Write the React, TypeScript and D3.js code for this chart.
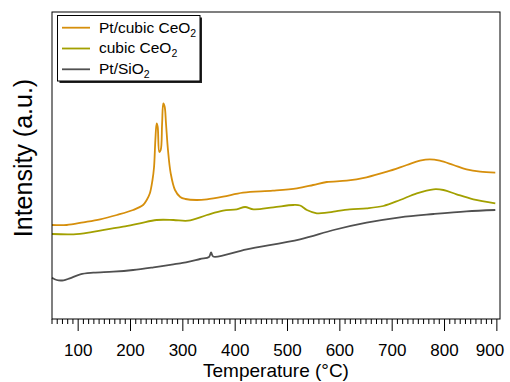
import React from "react";
import * as d3 from "d3";

// temperature axis (°C) and its labelled ticks
const tickLabels = [100, 200, 300, 400, 500, 600, 700, 800, 900];
const minorTicks = d3.range(50, 901, 10);

// Pt/cubic CeO2
const ptCeO2Temp = [50, 78, 110, 142, 174, 205, 224, 231, 237, 242, 245, 247.5, 250, 252, 255, 257.7, 260.4, 262.7, 265.3, 267.8, 271.6, 276.8, 285, 295, 305, 326, 346, 377, 415, 472, 518, 549, 575, 613, 651, 690, 728, 753, 772, 791, 817, 842, 868, 897];
const ptCeO2Int = [94, 94, 96.7, 99.7, 104, 109, 114, 119, 125.7, 139, 152, 179, 195.7, 192, 167, 169, 195.7, 215.7, 212.3, 195.7, 169, 145.7, 129, 122, 120, 119, 119.7, 122.3, 126.3, 128.3, 130.7, 134, 137, 138.3, 141.7, 147.3, 154, 158.3, 159.7, 158.3, 154, 149.7, 147.3, 146.3];

// cubic CeO2
const ceO2Temp = [50, 91, 123, 155, 186, 218, 250, 282, 310, 346, 377, 403, 419, 435, 473, 511, 524, 537, 556, 575, 588, 619, 651, 683, 715, 747, 779, 798, 823, 855, 897];
const ceO2Int = [85, 84.7, 86.7, 89.7, 92.3, 95.7, 99, 99, 98.3, 104, 108.3, 109.7, 112, 109.7, 111.7, 114, 113.5, 109, 105.7, 106.3, 107.3, 109.7, 110.7, 113, 119, 125.7, 129.7, 129, 124.7, 119.7, 115.7];

// Pt/SiO2
const ptSiO2Temp = [50, 59, 72, 84, 104, 129, 167, 205, 244, 282, 295, 333, 350, 354, 358, 422, 524, 588, 651, 715, 779, 842, 897];
const ptSiO2Int = [41.3, 39, 38.7, 40.7, 44.7, 46.3, 47.3, 49, 51.7, 54.7, 55.7, 60, 62, 66.5, 62.5, 69.7, 79.7, 89, 96.3, 101.7, 105, 107.7, 109];

const seriesNames = ["Pt/cubic CeO", "cubic CeO", "Pt/SiO"];
const seriesColors = ["#d68f0c", "#a2a000", "#505050"];

const W = 510;
const H = 382;
const margin = { left: 52, right: 10, top: 12, bottom: 63 };
const font = "Arial, 'Liberation Sans', sans-serif";

export default function App() {
  const x = d3.scaleLinear().domain([50, 906]).range([margin.left, W - margin.right]);
  const y = d3.scaleLinear().domain([0, 307]).range([H - margin.bottom, margin.top]);
  const axisY = H - margin.bottom;

  const line = d3
    .line<[number, number]>()
    .x((d) => x(d[0]))
    .y((d) => y(d[1]))
    .curve(d3.curveCatmullRom.alpha(0.5));

  const series = [
    d3.zip(ptCeO2Temp, ptCeO2Int),
    d3.zip(ceO2Temp, ceO2Int),
    d3.zip(ptSiO2Temp, ptSiO2Int),
  ] as [number, number][][];

  // legend box
  const lg = { x: 57.5, y: 15.5, w: 142.5, h: 65.5, row: 20.8 };

  return (
    <svg width={W} height={H} style={{ position: "absolute", left: 0, top: 0 }} fontFamily={font}>
      <rect width={W} height={H} fill="#fff" />

      {/* curves: draw grey first so coloured ones sit on top */}
      {series
        .map((s, i) => ({ s, i }))
        .reverse()
        .map(({ s, i }) => (
          <path key={i} d={line(s) || ""} fill="none" stroke={seriesColors[i]} strokeWidth={1.8} />
        ))}

      {/* frame */}
      <rect
        x={margin.left}
        y={margin.top}
        width={W - margin.right - margin.left}
        height={axisY - margin.top}
        fill="none"
        stroke="#000"
        strokeWidth={1}
      />

      {/* x ticks */}
      {minorTicks.map((t) => {
        const major = t % 100 === 0;
        return (
          <line key={t} x1={x(t)} x2={x(t)} y1={axisY} y2={axisY + (major ? 12 : 5)} stroke="#000" strokeWidth={1} />
        );
      })}
      {tickLabels.map((t) => (
        <text key={t} x={Math.min(x(t), 490)} y={356} fontSize={17} textAnchor="middle" fill="#000">
          {t}
        </text>
      ))}
      <text x={(margin.left + W - margin.right) / 2} y={377} fontSize={19} textAnchor="middle" fill="#000">
        Temperature (°C)
      </text>
      <text transform="translate(32,158) rotate(-90)" fontSize={25} textAnchor="middle" fill="#000">
        Intensity (a.u.)
      </text>

      {/* legend */}
      <rect x={lg.x + 2} y={lg.y + 2} width={lg.w} height={lg.h} fill="#222" />
      <rect x={lg.x} y={lg.y} width={lg.w} height={lg.h} fill="#fff" stroke="#000" strokeWidth={1} />
      {seriesNames.map((name, i) => {
        const ly = 27.7 + i * lg.row;
        return (
          <g key={name}>
            <line x1={62} x2={90} y1={ly} y2={ly} stroke={seriesColors[i]} strokeWidth={1.8} />
            <text x={99} y={ly + 4.8} fontSize={15.5} fill="#000">
              {name}
              <tspan fontSize={10.5} dy={4}>2</tspan>
            </text>
          </g>
        );
      })}
    </svg>
  );
}
